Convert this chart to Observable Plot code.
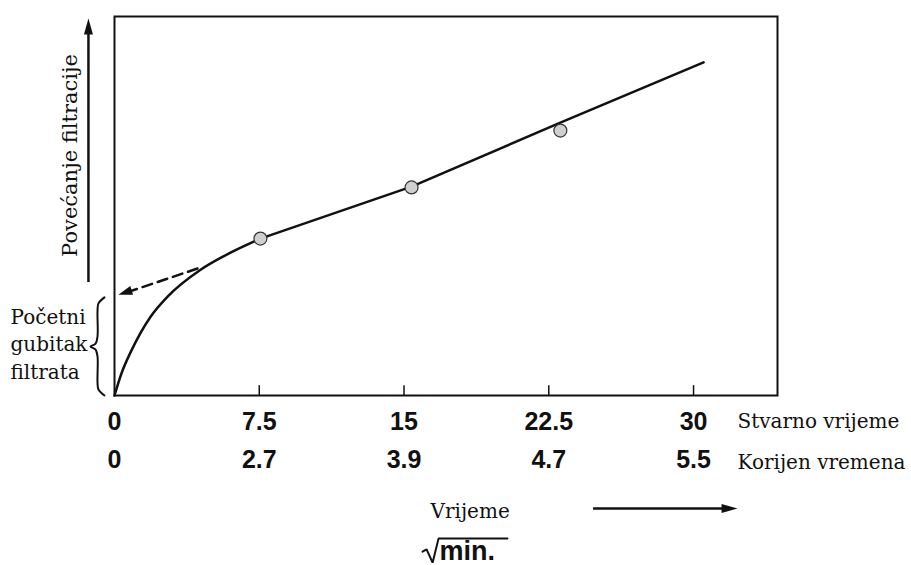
<!DOCTYPE html>
<html><head><meta charset="utf-8">
<script src="https://cdn.jsdelivr.net/npm/d3@7"></script>
<script src="https://cdn.jsdelivr.net/npm/@observablehq/plot@0.6"></script>
<style>body{margin:0;background:#fff}</style>
</head><body><div id="chart"></div>
<script>
// Tick values and labels
const realTimeTicks = [0, 7.5, 15, 22.5, 30];
const realTimeLabels = ["0", "7.5", "15", "22.5", "30"];
const rootTimeLabels = ["0", "2.7", "3.9", "4.7", "5.5"];

// Filtrate curve (x = real time, y = relative filtrate volume)
const curveX = [0, 0.36, 0.88, 1.87, 2.75, 4.46, 6.01, 7.56];
const curveY = [0, 5.8, 11.9, 20.8, 26.1, 33.2, 37.7, 41.4];
// Straight (linear) part of the plot
const lineX = [7.56, 15.39, 23.1, 30.52];
const lineY = [41.4, 55.1, 72.0, 87.9];

// Measured points
const pointX = [7.56, 15.39, 23.1];
const pointY = [41.4, 54.9, 69.9];

// Extrapolation (dashed) back to the y axis
const extrapX = [4.3, 0.75];
const extrapY = [33.5, 27.4];
const extrapTipX = [0.2];
const extrapTipY = [26.6];

// Annotation geometry (data units)
const yArrowX = [-1.35];
const yArrowY = [29.8, 99.5];
const tArrowX = [24.82, 32.28];
const tArrowY = [-29.8];
const braceX = [-0.52, -0.83, -0.88, -0.88, -0.98, -1.24, -0.98, -0.88, -0.88, -0.83, -0.52];
const braceY = [25.9, 24.3, 22.4, 15.6, 13.7, 12.9, 12.1, 10.3, 3.4, 1.6, 0];
const radicalX = [15.96, 16.17, 16.48, 16.79, 20.36];
const radicalY = [-41.2, -40.6, -44.1, -37.7, -37.7];

// Texts
const yTitle = "Povećanje filtracije";
const braceText = "Početni\ngubitak\nfiltrata";
const row1Name = "Stvarno vrijeme";
const row2Name = "Korijen vremena";
const timeTitle = "Vrijeme";
const unitText = "min.";

const curve = curveX.map((x, i) => ({x, y: curveY[i]}));
const straight = lineX.map((x, i) => ({x, y: lineY[i]}));
const points = pointX.map((x, i) => ({x, y: pointY[i]}));
const extrap = extrapX.map((x, i) => ({x, y: extrapY[i]}));
const brace = braceX.map((x, i) => ({x, y: braceY[i]}));
const radical = radicalX.map((x, i) => ({x, y: radicalY[i]}));
const realMap = new Map(realTimeTicks.map((t, i) => [t, realTimeLabels[i]]));
const rootMap = new Map(realTimeTicks.map((t, i) => [t, rootTimeLabels[i]]));
const ink = "#111";
const serif = "DejaVu Serif";
const sans = "Liberation Sans";

const chart = Plot.plot({
  width: 911, height: 565,
  marginLeft: 114, marginRight: 134, marginTop: 16, marginBottom: 170,
  x: {domain: [0, 34.35]},
  y: {domain: [0, 100], axis: null},
  style: {fontSize: "23px", color: ink, background: "#fff", overflow: "visible"},
  marks: [
    Plot.frame({stroke: ink, strokeWidth: 2}),
    Plot.ruleX(realTimeTicks.slice(1), {x: d => d, y1: 0, y2: 2.6, stroke: ink, strokeWidth: 1.5}),
    Plot.axisX(realTimeTicks, {tickSize: 0, tickPadding: 17, label: null, tickFormat: d => realMap.get(d), fontFamily: sans, fontWeight: "bold", fontSize: 25}),
    Plot.axisX(realTimeTicks, {tickSize: 0, tickPadding: 55, label: null, tickFormat: d => rootMap.get(d), fontFamily: sans, fontWeight: "bold", fontSize: 25}),
    Plot.line(curve, {x: "x", y: "y", curve: "monotone-x", stroke: ink, strokeWidth: 2.5}),
    Plot.line(straight, {x: "x", y: "y", stroke: ink, strokeWidth: 2.5}),
    Plot.line(extrap, {x: "x", y: "y", stroke: ink, strokeWidth: 2.5, strokeDasharray: "10,6"}),
    Plot.vector(extrapTipX, {x: d => d, y: (d, i) => extrapTipY[i], length: 14, r: 4.5, shape: "spike", anchor: "end", rotate: 252, fill: ink, stroke: "none"}),
    Plot.dot(points, {x: "x", y: "y", r: 6.5, fill: "#cfcfcf", stroke: "#333", strokeWidth: 1.2}),
    // y arrow
    Plot.ruleX(yArrowX, {x: d => d, y1: yArrowY[0], y2: yArrowY[1] - 3, stroke: ink, strokeWidth: 2.5}),
    Plot.vector(yArrowX, {x: d => d, y: yArrowY[1], length: 16, r: 4.5, shape: "spike", anchor: "end", rotate: 0, fill: ink, stroke: "none"}),
    Plot.text([yTitle], {frameAnchor: "left", dx: -38, dy: -50.5, rotate: -90, textAnchor: "middle", lineAnchor: "bottom", fontFamily: serif, fontSize: 21, fill: ink}),
    // brace
    Plot.line(brace, {x: "x", y: "y", curve: "catmull-rom", stroke: ink, strokeWidth: 2}),
    Plot.text([braceText], {frameAnchor: "bottom-left", dx: -104, dy: -17, textAnchor: "start", lineAnchor: "bottom", lineHeight: 1.375, fontFamily: serif, fontSize: 20, fill: ink}),
    // row names
    Plot.text([row1Name], {frameAnchor: "bottom-left", dx: 623, dy: 32, textAnchor: "start", lineAnchor: "bottom", fontFamily: serif, fontSize: 20, fill: ink}),
    Plot.text([row2Name], {frameAnchor: "bottom-left", dx: 623, dy: 73, textAnchor: "start", lineAnchor: "bottom", fontFamily: serif, fontSize: 20, fill: ink}),
    // time title & arrow
    Plot.text([timeTitle], {frameAnchor: "bottom-left", dx: 316, dy: 122, textAnchor: "start", lineAnchor: "bottom", fontFamily: serif, fontSize: 20, fill: ink}),
    Plot.ruleY(tArrowY, {y: d => d, x1: tArrowX[0], x2: tArrowX[1] - 0.3, stroke: ink, strokeWidth: 2.5}),
    Plot.vector(tArrowY, {x: tArrowX[1], y: d => d, length: 16, r: 4.5, shape: "spike", anchor: "end", rotate: 90, fill: ink, stroke: "none"}),
    // sqrt(min.)
    Plot.line(radical, {x: "x", y: "y", stroke: ink, strokeWidth: 2, strokeLinejoin: "miter"}),
    Plot.text([unitText], {frameAnchor: "bottom-left", dx: 325, dy: 164, textAnchor: "start", lineAnchor: "bottom", fontFamily: sans, fontWeight: "bold", fontSize: 27, fill: ink})
  ]
});
document.getElementById("chart").append(chart);
</script>
</body></html>
